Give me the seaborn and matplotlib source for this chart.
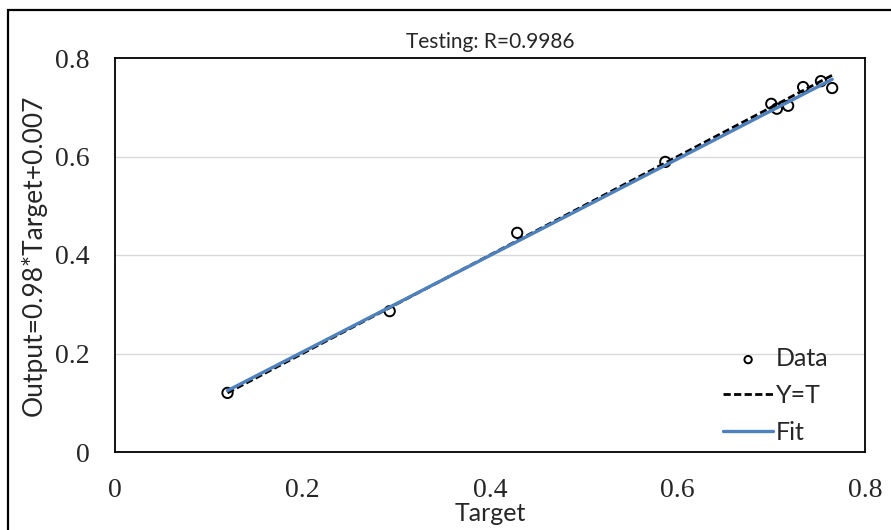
import numpy as np
import pandas as pd
import matplotlib
matplotlib.use("Agg")
import matplotlib.pyplot as plt
import seaborn as sns
from matplotlib.patches import Rectangle

# =======================
# Data
# =======================
target = [0.120, 0.293, 0.429, 0.587, 0.700, 0.706, 0.718, 0.734, 0.753, 0.765]
output = [0.120, 0.286, 0.445, 0.589, 0.707, 0.697, 0.703, 0.741, 0.753, 0.739]
fit_slope = 0.98
fit_intercept = 0.007
title_text = "Testing: R=0.9986"
ylabel_text = "Output=0.98*Target+0.007"
xlabel_text = "Target"
ticks = [0, 0.2, 0.4, 0.6, 0.8]
tick_labels = ["0", "0.2", "0.4", "0.6", "0.8"]

df = pd.DataFrame({"Target": target, "Output": output})
x_line = np.array([min(target), max(target)])
lines = pd.DataFrame({"x": x_line,
                      "yt": x_line,
                      "fit": fit_slope * x_line + fit_intercept})

# =======================
# Plot
# =======================
sns.set_theme(style="white")
sans = ["Lato", "DejaVu Sans"]
serif = ["Liberation Serif", "DejaVu Serif"]

fig = plt.figure(figsize=(8.91, 5.30), dpi=100)
ax = fig.add_axes([115/891, 1-452/530, 750/891, 394/530])

for yv in [0.2, 0.4, 0.6]:
    ax.axhline(yv, color="#d9d9d9", lw=1, zorder=0)

sns.scatterplot(data=df, x="Target", y="Output", ax=ax, marker="o", s=55,
                facecolor="none", edgecolor="black", linewidth=1.4,
                label="Data", zorder=3)
sns.lineplot(data=lines, x="x", y="yt", ax=ax, color="black", lw=2,
             linestyle=(0, (2.6, 1.2)), label="Y=T", zorder=4)
sns.lineplot(data=lines, x="x", y="fit", ax=ax, color="#4f81bd", lw=2.4,
             label="Fit", zorder=5)

ax.set_xlim(0, 0.8)
ax.set_ylim(0, 0.8)
ax.set_xticks(ticks)
ax.set_xticklabels(tick_labels, family=serif, fontsize=20)
ax.set_yticks(ticks)
ax.set_yticklabels(tick_labels, family=serif, fontsize=20)
ax.tick_params(axis="x", pad=19, length=0)
ax.tick_params(axis="y", pad=18, length=0)
for sp in ax.spines.values():
    sp.set_color("black")
    sp.set_linewidth(1.3)

ax.set_xlabel(xlabel_text, family=sans, fontsize=18)
ax.xaxis.set_label_coords(0.5, (452 - 502) / 394)
ax.set_ylabel(ylabel_text, family=sans, fontsize=19, labelpad=6)
ax.set_title(title_text, family=sans, fontsize=15, pad=7)

leg = ax.legend(loc="lower right", frameon=False, prop={"family": sans, "size": 18},
                handlelength=2.0, handletextpad=0.1, labelspacing=0.55,
                borderaxespad=0.2, bbox_to_anchor=(0.971, -0.017))
leg.legend_handles[0].set_sizes([28])

# outer chart border (open at right/bottom as in the crop)
fig.add_artist(Rectangle((8/891, -0.1), 1.2, 1 - 10/530 + 0.1,
                         transform=fig.transFigure, fill=False,
                         edgecolor="black", lw=1.6, clip_on=False))

fig.savefig("out.png", dpi=100)
